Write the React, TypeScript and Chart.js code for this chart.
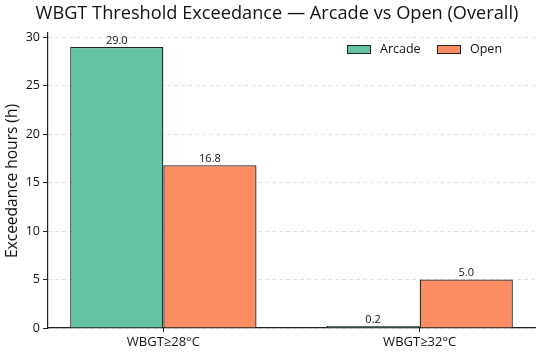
import React, { useEffect, useRef } from "react";
import { Chart, registerables } from "chart.js";

Chart.register(...registerables);

const categories = ["WBGT≥28°C", "WBGT≥32°C"];
const seriesNames = ["Arcade", "Open"];
const arcadeValues = [29.0, 0.2];
const openValues = [16.8, 5.0];
const yTicks = [0, 5, 10, 15, 20, 25, 30];
const colors = ["#66c2a5", "#fc8d62"];

const FONT = "'Open Sans', 'Noto Sans', sans-serif";

export default function App() {
  const ref = useRef<HTMLCanvasElement | null>(null);

  useEffect(() => {
    document.body.style.margin = "0";
    const canvas = ref.current!;
    const overlay = {
      id: "overlay",
      afterDraw(chart: any) {
        const ctx = chart.ctx;
        ctx.save();
        // title
        ctx.fillStyle = "#111";
        ctx.font = `18.2px ${FONT}`;
        ctx.textAlign = "center";
        ctx.textBaseline = "middle";
        ctx.fillText("WBGT Threshold Exceedance — Arcade vs Open (Overall)", 277, 14);
        // y title
        ctx.save();
        ctx.translate(13, 181);
        ctx.rotate(-Math.PI / 2);
        ctx.font = `15.5px ${FONT}`;
        ctx.fillText("Exceedance hours (h)", 0, 0);
        ctx.restore();
        // value labels
        ctx.font = `11px ${FONT}`;
        ctx.textBaseline = "bottom";
        chart.data.datasets.forEach((ds: any, i: number) => {
          const meta = chart.getDatasetMeta(i);
          meta.data.forEach((bar: any, j: number) => {
            const v = ds.data[j].y;
            ctx.fillText(v.toFixed(1), bar.x, bar.y - 1);
          });
        });
        // legend
        ctx.font = `12.5px ${FONT}`;
        ctx.textAlign = "left";
        ctx.textBaseline = "middle";
        const lx = [347, 437];
        seriesNames.forEach((n, i) => {
          ctx.fillStyle = colors[i];
          ctx.fillRect(lx[i], 45, 23, 8);
          ctx.strokeStyle = "#222";
          ctx.lineWidth = 1;
          ctx.strokeRect(lx[i] + 0.5, 45.5, 23, 8);
          ctx.fillStyle = "#111";
          ctx.fillText(n, lx[i] + 33, 49.5);
        });
        ctx.restore();
      },
    };

    const chart = new Chart(canvas, {
      type: "bar",
      data: {
        datasets: [
          {
            label: seriesNames[0],
            data: arcadeValues.map((v, i) => ({ x: i, y: v })),
            backgroundColor: colors[0],
            borderColor: "#222",
            borderWidth: 1.3,
          },
          {
            label: seriesNames[1],
            data: openValues.map((v, i) => ({ x: i, y: v })),
            backgroundColor: colors[1],
            borderColor: "#222",
            borderWidth: 1.3,
          },
        ],
      },
      options: {
        responsive: false,
        animation: false,
        layout: { padding: { left: 0, right: 15, top: 33, bottom: 0 } },
        datasets: { bar: { categoryPercentage: 0.727, barPercentage: 1 } },
        plugins: {
          legend: { display: false },
          title: { display: false },
          tooltip: { enabled: false },
        },
        scales: {
          x: {
            type: "linear",
            min: -0.45,
            max: 1.45,
            offset: false,
            grid: { display: true, drawOnChartArea: false, drawTicks: true, tickLength: 4, color: "#222", offset: false },
            border: { display: true, color: "#222", width: 1.2 },
            afterBuildTicks: (scale: any) => {
              scale.ticks = categories.map((_, i) => ({ value: i }));
            },
            ticks: {
              color: "#111",
              font: { family: FONT, size: 13 },
              padding: 2,
              callback: (v: any) => categories[Math.round(Number(v))] ?? "",
            },
            afterFit: (scale: any) => {
              scale.height = 24;
            },
          },
          y: {
            min: 0,
            max: 30.45,
            afterBuildTicks: (scale: any) => {
              scale.ticks = yTicks.map((v) => ({ value: v }));
            },
            grid: {
              color: "rgba(0,0,0,0.12)",
              drawTicks: true,
              tickLength: 5,
              tickColor: "#222",
              tickBorderDash: [],
            } as any,
            border: { display: true, color: "#222", width: 1.2, dash: [4, 3] } as any,
            ticks: {
              color: "#111",
              font: { family: FONT, size: 12.5 },
              padding: 3,
            },
            afterFit: (scale: any) => {
              scale.width = 48;
            },
          },
        },
      } as any,
      plugins: [overlay],
    });
    return () => chart.destroy();
  }, []);

  return (
    <div style={{ width: 550, height: 352, background: "#fff" }}>
      <canvas ref={ref} width={550} height={352} style={{ display: "block" }} />
    </div>
  );
}
